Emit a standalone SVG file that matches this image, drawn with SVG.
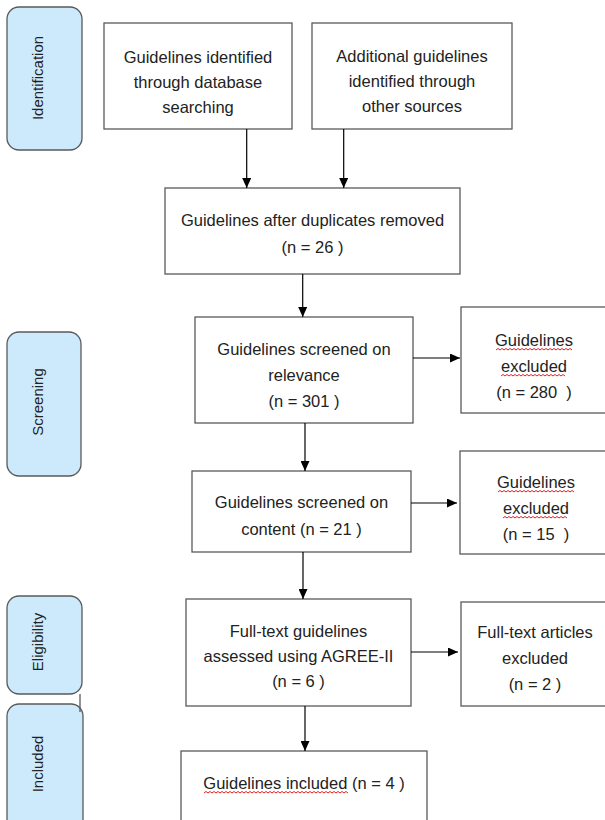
<svg xmlns="http://www.w3.org/2000/svg" width="605" height="820" viewBox="0 0 605 820">
<defs>
<style>
.box{fill:#ffffff;stroke:#595959;stroke-width:1.3}
.side{fill:#cdeafd;stroke:#595959;stroke-width:1.3}
.t{font-family:"Liberation Sans",Arial,sans-serif;font-size:16.5px;fill:#222222;text-anchor:middle}
.s{font-family:"Liberation Sans",Arial,sans-serif;font-size:15px;fill:#222222;text-anchor:middle}
.arr{stroke:#000;stroke-width:1.2;fill:none;marker-end:url(#ah)}
.wave{stroke:#e02020;stroke-width:1;fill:none}
</style>
<marker id="ah" markerUnits="userSpaceOnUse" markerWidth="10" markerHeight="9" refX="10" refY="4.5" orient="auto">
<path d="M0,0 L10,4.5 L0,9 z" fill="#000"/>
</marker>
</defs>
<rect width="605" height="820" fill="#ffffff"/>

<g id="phase-identification">
<rect class="side" x="7" y="7" width="75" height="143" rx="12"/>
<text class="s" transform="translate(38,78) rotate(-90)" y="5">Identification</text>
</g>
<g id="phase-screening">
<rect class="side" x="7" y="332" width="74" height="144" rx="12"/>
<text class="s" transform="translate(38,402) rotate(-90)" y="5">Screening</text>
</g>
<g id="phase-eligibility">
<rect class="side" x="7" y="596" width="75" height="98" rx="12"/>
<text class="s" transform="translate(38,642) rotate(-90)" y="5">Eligibility</text>
</g>
<g id="phase-included">
<rect class="side" x="7" y="704" width="76" height="140" rx="12"/>
<text class="s" transform="translate(38,764) rotate(-90)" y="5">Included</text>
</g>

<g id="db-search">
<rect class="box" x="104" y="23" width="188" height="106"/>
<text class="t" x="198" y="63">Guidelines identified</text>
<text class="t" x="198" y="88">through database</text>
<text class="t" x="198" y="113">searching</text>
</g>
<g id="other-sources">
<rect class="box" x="312" y="23" width="200" height="106"/>
<text class="t" x="412" y="62">Additional guidelines</text>
<text class="t" x="412" y="87">identified through</text>
<text class="t" x="412" y="112">other sources</text>
</g>
<g id="duplicates-removed">
<rect class="box" x="165" y="188" width="295" height="86"/>
<text class="t" x="312.5" y="226">Guidelines after duplicates removed</text>
<text class="t" x="312.5" y="253">(n = 26 )</text>
</g>
<g id="screened-relevance">
<rect class="box" x="195" y="317" width="218" height="106"/>
<text class="t" x="304" y="355">Guidelines screened on</text>
<text class="t" x="304" y="381">relevance</text>
<text class="t" x="304" y="407">(n = 301 )</text>
</g>
<g id="excluded-relevance">
<rect class="box" x="461" y="307" width="150" height="106"/>
<text class="t" x="534" y="346">Guidelines</text>
<text class="t" x="534" y="372">excluded</text>
<text class="t" x="534" y="398" xml:space="preserve">(n = 280  )</text>
<path class="wave" d="M496,350 l2,-1.5 2,1.5 2,-1.5 2,1.5 2,-1.5 2,1.5 2,-1.5 2,1.5 2,-1.5 2,1.5 2,-1.5 2,1.5 2,-1.5 2,1.5 2,-1.5 2,1.5 2,-1.5 2,1.5 2,-1.5 2,1.5 2,-1.5 2,1.5 2,-1.5 2,1.5 2,-1.5 2,1.5 2,-1.5 2,1.5 2,-1.5 2,1.5 2,-1.5 2,1.5 2,-1.5 2,1.5 2,-1.5 2,1.5 2,-1.5 2,1.5"/>
<path class="wave" d="M501,376 l2,-1.5 2,1.5 2,-1.5 2,1.5 2,-1.5 2,1.5 2,-1.5 2,1.5 2,-1.5 2,1.5 2,-1.5 2,1.5 2,-1.5 2,1.5 2,-1.5 2,1.5 2,-1.5 2,1.5 2,-1.5 2,1.5 2,-1.5 2,1.5 2,-1.5 2,1.5 2,-1.5 2,1.5 2,-1.5 2,1.5 2,-1.5 2,1.5 2,-1.5 2,1.5"/>
</g>
<g id="screened-content">
<rect class="box" x="192" y="471" width="219" height="81"/>
<text class="t" x="301.5" y="508">Guidelines screened on</text>
<text class="t" x="301.5" y="535">content (n = 21 )</text>
</g>
<g id="excluded-content">
<rect class="box" x="460" y="451" width="150" height="103"/>
<text class="t" x="536" y="488">Guidelines</text>
<text class="t" x="536" y="514">excluded</text>
<text class="t" x="536" y="540" xml:space="preserve">(n = 15  )</text>
<path class="wave" d="M498,492 l2,-1.5 2,1.5 2,-1.5 2,1.5 2,-1.5 2,1.5 2,-1.5 2,1.5 2,-1.5 2,1.5 2,-1.5 2,1.5 2,-1.5 2,1.5 2,-1.5 2,1.5 2,-1.5 2,1.5 2,-1.5 2,1.5 2,-1.5 2,1.5 2,-1.5 2,1.5 2,-1.5 2,1.5 2,-1.5 2,1.5 2,-1.5 2,1.5 2,-1.5 2,1.5 2,-1.5 2,1.5 2,-1.5 2,1.5 2,-1.5 2,1.5"/>
<path class="wave" d="M503,518 l2,-1.5 2,1.5 2,-1.5 2,1.5 2,-1.5 2,1.5 2,-1.5 2,1.5 2,-1.5 2,1.5 2,-1.5 2,1.5 2,-1.5 2,1.5 2,-1.5 2,1.5 2,-1.5 2,1.5 2,-1.5 2,1.5 2,-1.5 2,1.5 2,-1.5 2,1.5 2,-1.5 2,1.5 2,-1.5 2,1.5 2,-1.5 2,1.5 2,-1.5 2,1.5"/>
</g>
<g id="full-text-assessed">
<rect class="box" x="186" y="599" width="225" height="107"/>
<text class="t" x="298.5" y="637">Full-text guidelines</text>
<text class="t" x="298.5" y="662">assessed using AGREE-II</text>
<text class="t" x="298.5" y="687">(n = 6 )</text>
</g>
<g id="full-text-excluded">
<rect class="box" x="461" y="602" width="150" height="104"/>
<text class="t" x="535" y="638">Full-text articles</text>
<text class="t" x="535" y="664">excluded</text>
<text class="t" x="535" y="690">(n = 2 )</text>
</g>
<g id="included">
<rect class="box" x="181" y="751" width="246" height="100"/>
<text class="t" x="304" y="789">Guidelines included (n = 4 )</text>
<path class="wave" d="M204,793 l2,-1.5 2,1.5 2,-1.5 2,1.5 2,-1.5 2,1.5 2,-1.5 2,1.5 2,-1.5 2,1.5 2,-1.5 2,1.5 2,-1.5 2,1.5 2,-1.5 2,1.5 2,-1.5 2,1.5 2,-1.5 2,1.5 2,-1.5 2,1.5 2,-1.5 2,1.5 2,-1.5 2,1.5 2,-1.5 2,1.5 2,-1.5 2,1.5 2,-1.5 2,1.5 2,-1.5 2,1.5 2,-1.5 2,1.5 2,-1.5 2,1.5 2,-1.5 2,1.5 2,-1.5 2,1.5 2,-1.5 2,1.5 2,-1.5 2,1.5 2,-1.5 2,1.5 2,-1.5 2,1.5 2,-1.5 2,1.5 2,-1.5 2,1.5 2,-1.5 2,1.5 2,-1.5 2,1.5 2,-1.5 2,1.5 2,-1.5 2,1.5 2,-1.5 2,1.5 2,-1.5 2,1.5 2,-1.5 2,1.5 2,-1.5 2,1.5 2,-1.5 2,1.5"/>
</g>

<g id="connectors">
<line class="arr" x1="246.7" y1="129" x2="246.7" y2="188"/>
<line class="arr" x1="343.7" y1="129" x2="343.7" y2="188"/>
<line class="arr" x1="302.7" y1="274" x2="302.7" y2="317"/>
<line class="arr" x1="413" y1="358" x2="460" y2="358"/>
<line class="arr" x1="305" y1="423" x2="305" y2="471"/>
<line class="arr" x1="411" y1="503" x2="457" y2="503"/>
<line class="arr" x1="303" y1="552" x2="303" y2="599"/>
<line class="arr" x1="411" y1="652" x2="458" y2="652"/>
<line class="arr" x1="305" y1="706" x2="305" y2="751"/>
<line x1="80" y1="694" x2="80" y2="712" stroke="#595959" stroke-width="1.3"/>
</g>
</svg>
